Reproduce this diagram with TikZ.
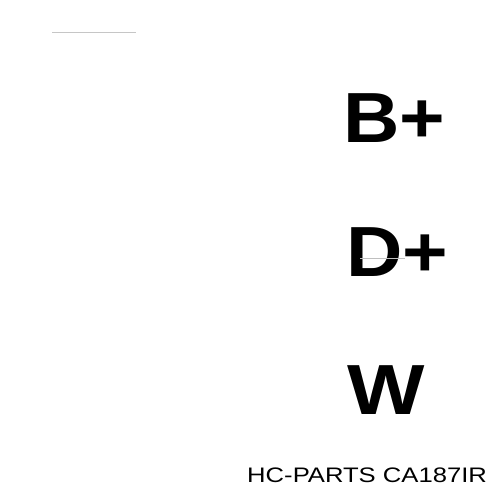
\documentclass[tikz,border=0pt]{standalone}
\usepackage{fontspec}
\setmainfont{Liberation Sans}

\tikzset{%
  terminal/.style={anchor=base west, inner sep=0pt, xscale=1.1, font=\fontsize{71}{71}\selectfont\bfseries},
  partno/.style={anchor=base west, inner sep=0pt, xscale=1.22, font=\fontsize{21}{21}\selectfont}
}

\begin{document}
\begin{tikzpicture}[x=1pt,y=1pt]
     \useasboundingbox (0,0) rectangle (500,500);
     \fill[white] (0,0) rectangle (500,500);
     % stray marks of the scan
     \coordinate (tl) at (52,468);
     \coordinate (tr) at (136,468);
     \draw[gray!45, line width=0.6pt] (tl) -- (tr);

     \node[terminal] (bplus) at (343,357) {B+};
     \node[terminal] (dplus) at (346,223) {D+};
     \node[terminal, xscale=1.05] (w) at (347,85) {W};

     \draw[gray!50, line width=0.5pt] ([xshift=14pt,yshift=19pt]dplus.base west) -- ++(45,0);

     \node[partno] (part) at (247,17) {HC-PARTS CA187IR};
\end{tikzpicture}
\end{document}
